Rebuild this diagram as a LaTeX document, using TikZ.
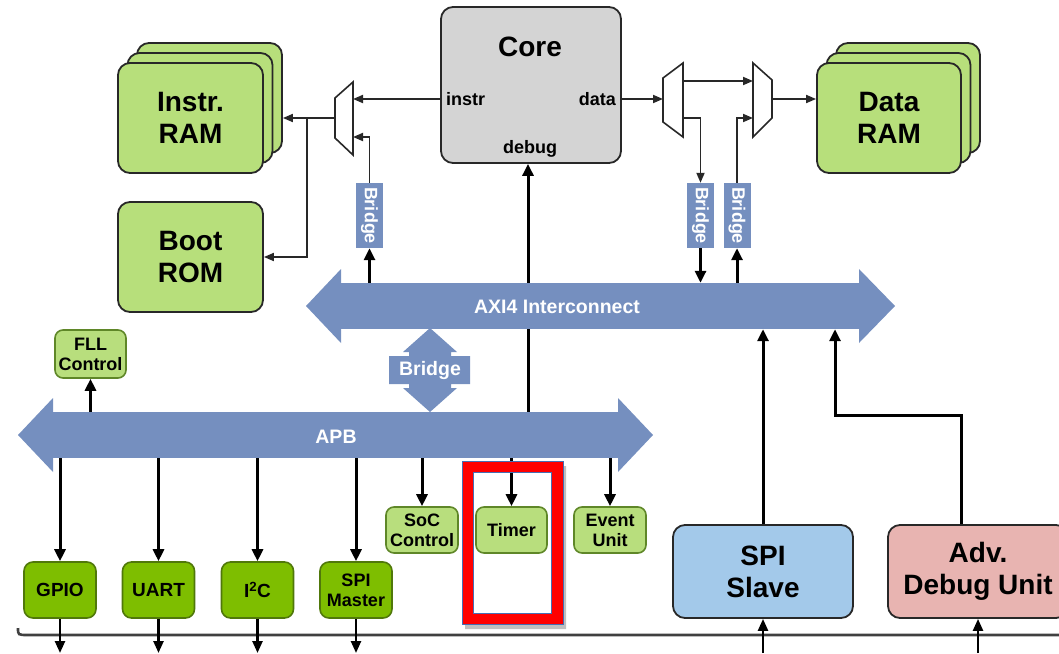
\documentclass[tikz,border=0pt]{standalone}
\usepackage{fontspec}
\setmainfont{Liberation Sans}
\usetikzlibrary{arrows.meta,calc}
\definecolor{ramgreen}{RGB}{183,223,123}
\definecolor{pergreen}{RGB}{184,222,125}
\definecolor{perborder}{RGB}{95,135,40}
\definecolor{dkgreen}{RGB}{126,190,0}
\definecolor{dkborder}{RGB}{80,120,10}
\definecolor{coregray}{RGB}{212,212,212}
\definecolor{spiblue}{RGB}{163,201,234}
\definecolor{advpink}{RGB}{232,180,177}
\definecolor{busblue}{RGB}{117,143,191}
\definecolor{edge}{RGB}{40,40,40}
\definecolor{frameblue}{RGB}{70,110,180}
\begin{document}
\begin{tikzpicture}[x=1pt,y=-1pt,
  bigbox/.style={draw=edge, line width=1.8pt, rounded corners=12pt, align=center, inner sep=0pt,
    font=\bfseries\fontsize{28}{32}\selectfont},
  ram/.style={bigbox, fill=ramgreen, minimum width=145pt, minimum height=110pt},
  perbox/.style={draw=perborder, line width=1.6pt, fill=pergreen, rounded corners=8pt, align=center,
    inner sep=0pt, font=\bfseries\fontsize{18}{20}\selectfont},
  iobox/.style={draw=dkborder, line width=1.6pt, fill=dkgreen, rounded corners=9pt, align=center,
    inner sep=0pt, minimum width=72pt, minimum height=56pt, font=\bfseries\fontsize{19}{21}\selectfont},
  vbridge/.style={fill=busblue, minimum width=27pt, minimum height=65pt, inner sep=0pt},
  bridgetext/.style={text=white, font=\bfseries\fontsize{18}{20}\selectfont},
  bustext/.style={text=white, font=\bfseries\fontsize{19.5}{21}\selectfont},
  portlabel/.style={font=\bfseries\fontsize{18}{20}\selectfont, inner sep=0pt},
  tn/.style={draw=edge, line width=1.8pt, -{Triangle[length=10pt,width=8pt]}},
  tk/.style={draw=black, line width=3pt, -{Triangle[length=12pt,width=11pt]}},
  tm/.style={draw=black, line width=2.4pt, -{Triangle[length=12pt,width=10pt]}},
  muxshape/.style={draw=edge, line width=1.6pt, fill=white}
]
\useasboundingbox (0,0) rectangle (1059,653);
\clip (0,0) rectangle (1059,653);

% ---------- Core ----------
\node[bigbox, fill=coregray, minimum width=180pt, minimum height=156pt] (core) at (531,85) {};
\node[font=\bfseries\fontsize{28}{32}\selectfont] (coretitle) at (530,47) {Core};
\node[portlabel, anchor=west] (instrlbl) at (446,99) {instr};
\node[portlabel, anchor=east] (datalbl) at (616,99) {data};
\node[portlabel] (debuglbl) at (530,149) {debug};

% ---------- Memories ----------
\node[ram] (iramC) at (209.5,98) {};
\node[ram] (iramB) at (200,108) {};
\node[ram] (iram) at (190.5,118) {Instr.\\RAM};
\node[ram] (boot) at (190.5,257) {Boot\\ROM};
\node[ram, minimum width=144pt] (dramC) at (908,98) {};
\node[ram, minimum width=144pt] (dramB) at (898.5,108) {};
\node[ram, minimum width=144pt] (dram) at (889,118) {Data\\RAM};

% ---------- Muxes ----------
\draw[muxshape] (335,98) -- (353,82) -- (353,155) -- (335,138) -- cycle;
\coordinate (mLo) at (335,118);
\coordinate (mLi1) at (353,99);
\coordinate (mLi2) at (353,137);
\draw[muxshape] (663,78) -- (683,63) -- (683,137) -- (663,122) -- cycle;
\coordinate (mR1i) at (663,99);
\coordinate (mR1o1) at (683,81);
\coordinate (mR1o2) at (683,118);
\draw[muxshape] (753,63) -- (772,80) -- (772,118) -- (753,137) -- cycle;
\coordinate (mR2i1) at (753,81);
\coordinate (mR2i2) at (753,118);
\coordinate (mR2o) at (772,99);

% ---------- Vertical bridges ----------
\node[vbridge] (bl) at (369.5,215.5) {};
\node[bridgetext, rotate=-90] (bltxt) at (369.5,215.5) {Bridge};
\node[vbridge] (b1) at (700.5,215.5) {};
\node[bridgetext, rotate=-90] (b1txt) at (700.5,215.5) {Bridge};
\node[vbridge] (b2) at (737,215.5) {};
\node[bridgetext, rotate=-90] (b2txt) at (737,215.5) {Bridge};

% ---------- Peripherals ----------
\node[perbox, minimum width=71pt, minimum height=48pt] (fll) at (90.5,354) {FLL\\Control};
\node[iobox] (gpio) at (60,590) {GPIO};
\node[iobox] (uart) at (158.5,590) {UART};
\node[iobox] (i2c) at (257.5,590) {I\textsuperscript{2}C};
\node[iobox, font=\bfseries\fontsize{18}{20}\selectfont] (spim) at (356,590) {SPI\\Master};
\node[perbox, minimum width=72pt, minimum height=46pt] (soc) at (422,530) {SoC\\Control};
\node[perbox, minimum width=71pt, minimum height=46pt] (timer) at (511.5,530) {Timer};
\node[perbox, minimum width=72pt, minimum height=46pt] (event) at (610,530) {Event\\Unit};
\node[bigbox, fill=spiblue, minimum width=180pt, minimum height=93pt] (spis) at (763,571.5) {SPI\\Slave};
\node[bigbox, fill=advpink, minimum width=180pt, minimum height=93pt] (adv) at (978,571.5) {Adv.\\Debug Unit};

% ---------- Debug line (behind buses) ----------
\coordinate (dbg) at (528,412);
\draw[tk] (dbg) -- (dbg |- core.south);

% ---------- Buses ----------
\node[fill=busblue, minimum width=518pt, minimum height=46pt, inner sep=0pt] (axi) at (600,306) {};
\fill[busblue] (341,269) -- (306,306) -- (341,343) -- cycle;
\fill[busblue] (859,269) -- (895,306) -- (859,343) -- cycle;
\node[bustext] (axitxt) at (557,307) {AXI4 Interconnect};

\node[fill=busblue, minimum width=565pt, minimum height=46pt, inner sep=0pt] (apb) at (335.5,435) {};
\fill[busblue] (53,398) -- (18,435) -- (53,472) -- cycle;
\fill[busblue] (618,398) -- (653,435) -- (618,472) -- cycle;
\node[bustext] (apbtxt) at (336,437) {APB};

% central bridge double arrow
\fill[busblue] (430,328) -- (457,352) -- (451,352) -- (451,356) -- (470,356) -- (470,384)
  -- (451,384) -- (451,388) -- (457,388) -- (430,412) -- (403,388) -- (409,388) -- (409,384)
  -- (389,384) -- (389,356) -- (409,356) -- (409,352) -- (403,352) -- cycle;
\node[bustext] (cbtxt) at (430,370) {Bridge};

% ---------- Connectors (upper) ----------
\draw[tn] (core.west |- mLi1) -- (mLi1);
\draw[tn] (mLo) -- (mLo -| iramC.east);
\coordinate (brn) at (307,118);
\draw[tn] (brn) |- (boot.east);
\draw[tn] (bl.north) |- (mLi2);
\draw[tk] (bl |- axi.north) -- (bl.south);
\draw[tn] (core.east |- mR1i) -- (mR1i);
\draw[tn] (mR1o1) -- (mR2i1);
\draw[tn] (mR1o2) -| (b1.north);
\draw[tn] (b2.north) |- (mR2i2);
\draw[tn] (mR2o) -- (mR2o -| dram.west);
\draw[tk] (b1.south) -- (b1 |- axi.north);
\draw[tk] (b2 |- axi.north) -- (b2.south);

% ---------- Connectors (APB) ----------
\draw[tk] (fll |- apb.north) -- (fll.south);
\foreach \n in {gpio,uart,i2c,spim,soc,timer,event}{
  \draw[tk] (\n |- apb.south) -- (\n.north);
}

% ---------- Connectors (AXI inputs) ----------
\draw[tk] (spis.north) -- (spis |- axi.south);
\coordinate (ad1) at (961,415);
\coordinate (ad2) at (835,415);
\draw[tk] (ad1 |- adv.north) -- (ad1) -- (ad2) -- (ad2 |- axi.south);

% ---------- Bottom line ----------
\coordinate (bot) at (0,653);
\draw[line width=2.6pt, black!75] (18,628) .. controls (18,635) .. (28,635) -- (1059,635);
\foreach \n in {gpio,uart,i2c,spim}{
  \draw[tm] (\n.south) -- (\n |- bot);
}
\draw[tm] (spis |- bot) -- (spis.south);
\draw[tm] (adv |- bot) -- (adv.south);

% ---------- Highlight frame ----------
\fill[black!25, even odd rule] (465,466) rectangle (566,629) (473,472) rectangle (551,613);
\draw[frameblue, line width=1pt, fill=red, even odd rule]
  (462,461) rectangle (563,624) (473,472) rectangle (551,613);
\end{tikzpicture}
\end{document}
